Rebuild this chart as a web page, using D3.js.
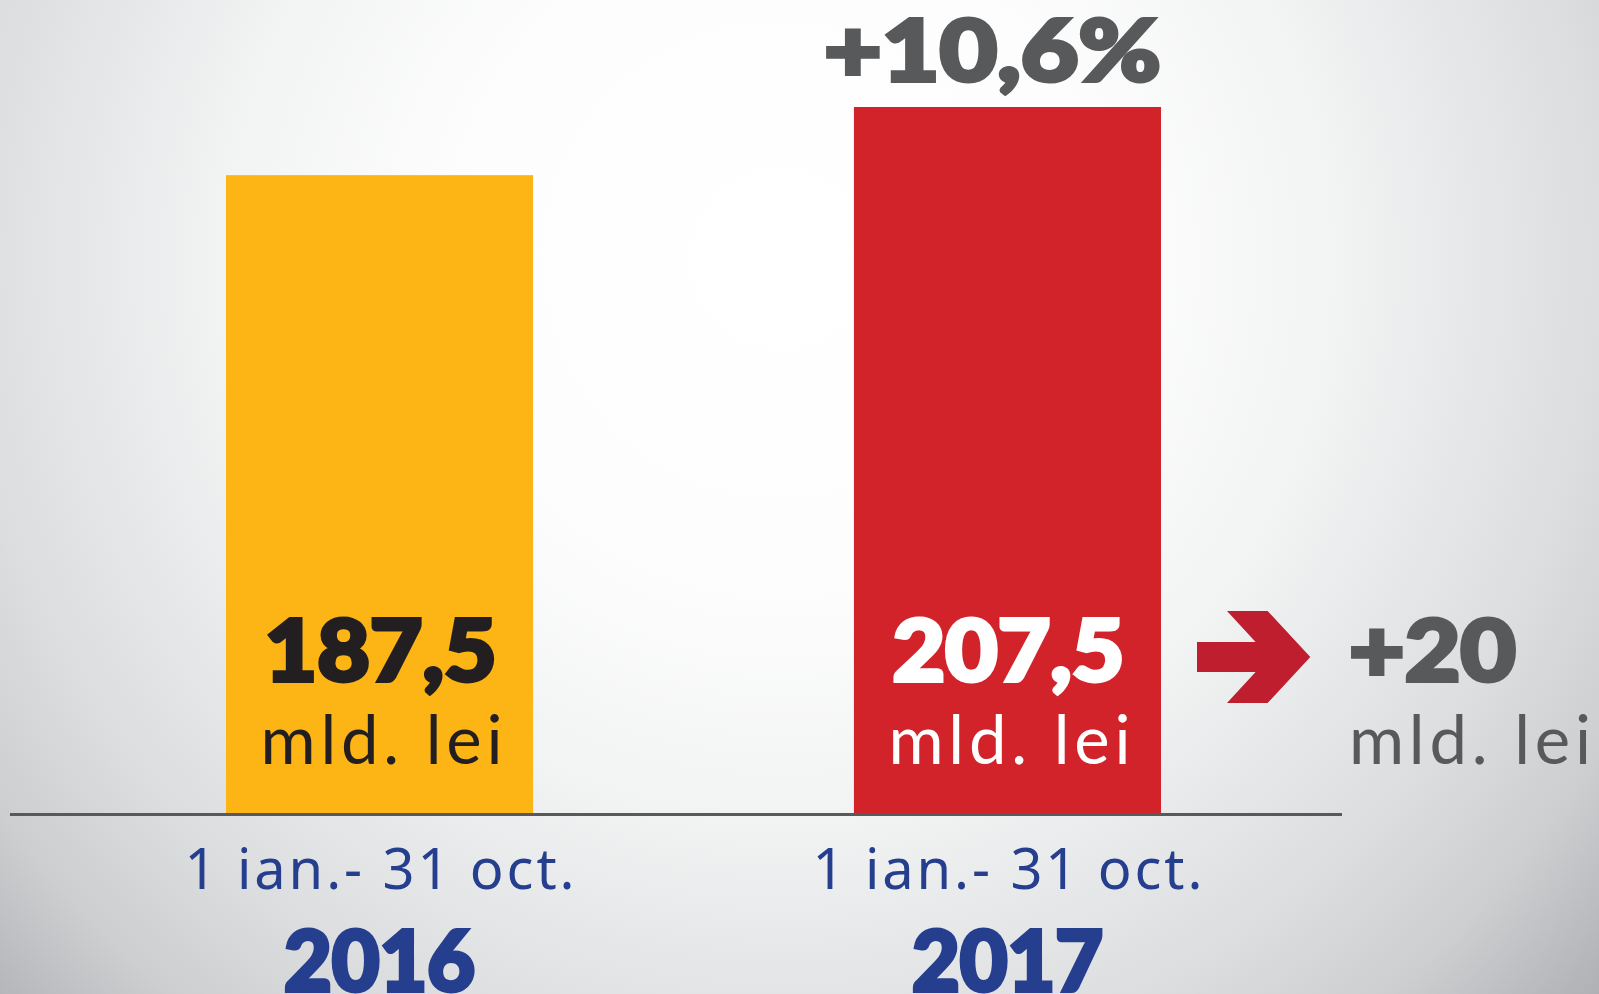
<!DOCTYPE html>
<html>
<head>
<meta charset="utf-8">
<script src="https://cdn.jsdelivr.net/npm/d3@7"></script>
<style>
  html, body { margin: 0; padding: 0; overflow: hidden; }
</style>
</head>
<body>
<div class="chart"></div>
<script>
// Chart data
var years = ["2016", "2017"];
var periods = ["1 ian.- 31 oct.", "1 ian.- 31 oct."];
var values = [187.5, 207.5];
var valueLabels = ["187,5", "207,5"];
var unitLabel = "mld. lei";
var diffLabel = "+20";
var pctLabel = "+10,6%";

var barColors = ["#fdb515", "#d2232a"];
var valueColors = ["#231f20", "#ffffff"];

// SVG area
var svgWidth = 1599;
var svgHeight = 994;

var svg = d3.select(".chart")
  .append("svg")
  .attr("width", svgWidth)
  .attr("height", svgHeight);

// background radial gradient
var defs = svg.append("defs");
var grad = defs.append("radialGradient")
  .attr("id", "bg")
  .attr("gradientUnits", "userSpaceOnUse")
  .attr("cx", 780).attr("cy", 260).attr("r", 1110);
[[0, "#ffffff"], [0.3, "#fdfdfd"], [0.5, "#f2f3f3"], [0.74, "#dcdddf"],
 [0.86, "#cdced0"], [0.97, "#b3b5b8"], [1, "#adafb2"]].forEach(function (s) {
  grad.append("stop").attr("offset", s[0]).attr("stop-color", s[1]);
});
svg.append("rect")
  .attr("width", svgWidth)
  .attr("height", svgHeight)
  .attr("fill", "url(#bg)");

// scales
var xBandScale = d3.scaleBand()
  .domain(years)
  .range([226, 1161])
  .paddingInner(0.511)
  .paddingOuter(0);

var yLinearScale = d3.scaleLinear()
  .domain([0, 207.5])
  .range([814, 107]);

// bars
svg.selectAll(".bar")
  .data(values)
  .enter()
  .append("rect")
  .attr("class", "bar")
  .attr("x", (d, i) => xBandScale(years[i]))
  .attr("width", xBandScale.bandwidth())
  .attr("y", d => yLinearScale(d))
  .attr("height", d => yLinearScale(0) - yLinearScale(d))
  .attr("fill", (d, i) => barColors[i]);

// baseline
svg.append("line")
  .attr("x1", 10)
  .attr("x2", 1342)
  .attr("y1", yLinearScale(0) + 0.5)
  .attr("y2", yLinearScale(0) + 0.5)
  .attr("stroke", "#58595b")
  .attr("stroke-width", 3);

var heavy = "Lato, 'Roboto', 'DejaVu Sans', sans-serif";
var light = "Lato, 'Open Sans', sans-serif";
var plex = "'Noto Sans', 'Open Sans', sans-serif";

var cx = (d, i) => xBandScale(years[i]) + xBandScale.bandwidth() / 2;

// heavy text helper: bold font thickened with a same-colour stroke
function heavyText(sel, color, size) {
  return sel
    .style("font-family", heavy)
    .style("font-weight", 900)
    .style("font-size", size + "px")
    .attr("fill", color)
    .attr("stroke", color)
    .attr("stroke-width", 4)
    .attr("stroke-linejoin", "miter");
}

// value labels inside bars
svg.selectAll(".val")
  .data(valueLabels)
  .enter()
  .append("text")
  .attr("class", "val")
  .attr("x", (d, i) => cx(d, i) + 1)
  .attr("y", 681)
  .attr("text-anchor", "middle")
  .attr("textLength", 232)
  .attr("lengthAdjust", "spacingAndGlyphs")
  .each(function (d, i) { heavyText(d3.select(this), valueColors[i], 86); })
  .text(d => d);

svg.selectAll(".unit")
  .data(valueLabels)
  .enter()
  .append("text")
  .attr("class", "unit")
  .attr("x", (d, i) => cx(d, i) + 2)
  .attr("y", 764)
  .attr("text-anchor", "middle")
  .attr("textLength", 242)
  .attr("lengthAdjust", "spacing")
  .style("font-family", light)
  .style("font-size", "67px")
  .attr("fill", (d, i) => valueColors[i])
  .text(unitLabel);

// period + year labels
svg.selectAll(".period")
  .data(periods)
  .enter()
  .append("text")
  .attr("class", "period")
  .attr("x", (d, i) => cx(d, i))
  .attr("y", 889)
  .attr("text-anchor", "middle")
  .attr("textLength", 390)
  .attr("lengthAdjust", "spacing")
  .style("font-family", plex)
  .style("font-size", "56px")
  .attr("fill", "#253f8e")
  .text(d => d);

svg.selectAll(".year")
  .data(years)
  .enter()
  .append("text")
  .attr("class", "year")
  .attr("x", (d, i) => cx(d, i))
  .attr("y", 991)
  .attr("text-anchor", "middle")
  .attr("textLength", 191)
  .attr("lengthAdjust", "spacingAndGlyphs")
  .each(function () { heavyText(d3.select(this), "#253f8e", 84); })
  .text(d => d);

// percent change above second bar
heavyText(svg.append("text"), "#58595b", 86)
  .attr("x", cx(null, 1) - 15)
  .attr("y", 81)
  .attr("text-anchor", "middle")
  .attr("textLength", 337)
  .attr("lengthAdjust", "spacingAndGlyphs")
  .text(pctLabel);

// arrow to the right of bar 2
var ax = xBandScale(years[1]) + xBandScale.bandwidth() + 36;
var ay = 657;
var arrowPts = [[0, -15], [58.6, -15], [30, -46], [70.6, -46], [113.3, 0],
  [70.6, 46], [30, 46], [58.6, 15], [0, 15]];
svg.append("polygon")
  .attr("points", arrowPts.map(p => (ax + p[0]) + "," + (ay + p[1])).join(" "))
  .attr("fill", "#be1e2d");

// difference label
heavyText(svg.append("text"), "#58595b", 86)
  .attr("x", 1349)
  .attr("y", 681)
  .attr("textLength", 167)
  .attr("lengthAdjust", "spacingAndGlyphs")
  .text(diffLabel);

svg.append("text")
  .attr("x", 1349)
  .attr("y", 764)
  .attr("textLength", 242)
  .attr("lengthAdjust", "spacing")
  .style("font-family", light)
  .style("font-size", "67px")
  .attr("fill", "#58595b")
  .text(unitLabel);
</script>
</body>
</html>
